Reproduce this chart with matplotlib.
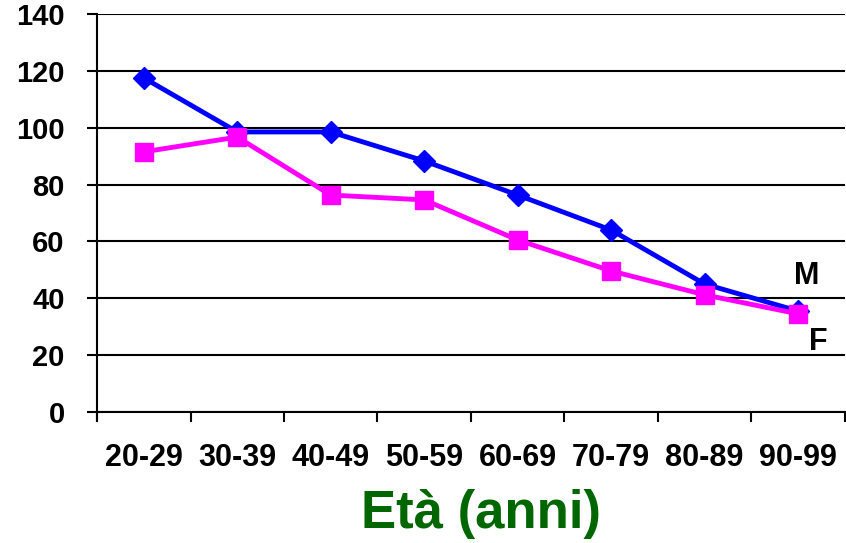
import numpy as np
import matplotlib
matplotlib.use('Agg')
import matplotlib.pyplot as plt

plt.rcParams['font.family'] = ['Liberation Sans', 'DejaVu Sans']

# Data
age_groups = ['20-29', '30-39', '40-49', '50-59', '60-69', '70-79', '80-89', '90-99']
males = [117.5, 98.5, 98.5, 88.3, 76.3, 64.0, 45.0, 35.5]
females = [91.5, 96.7, 76.3, 74.6, 60.5, 49.6, 41.2, 34.5]
y_ticks = [0, 20, 40, 60, 80, 100, 120, 140]

fig = plt.figure(figsize=(8.46, 5.43), dpi=100)
ax = fig.add_axes([0.1147, 0.2413, 0.884, 0.733])

x = np.arange(len(age_groups))

# horizontal grid lines
for t in y_ticks:
    ax.axhline(t, color='black', linewidth=1.5, zorder=1)

ax.plot(x, males, color='#0000FF', linewidth=3.5, marker='D', markersize=11,
        zorder=3, clip_on=False)
ax.plot(x, females, color='#FF00FF', linewidth=3.5, marker='s', markersize=13,
        zorder=4, clip_on=False)

ax.text(7.09, 47.8, 'M', fontsize=22, fontweight='bold', ha='center', va='center')
ax.text(7.22, 24.6, 'F', fontsize=22, fontweight='bold', ha='center', va='center')

ax.set_xlim(-0.5, 7.5)
ax.set_ylim(0, 140)
ax.set_yticks(y_ticks)
ax.set_yticklabels([str(t) for t in y_ticks], fontsize=21, fontweight='bold')
ax.tick_params(axis='y', length=7.2, width=1.5, pad=16)

ax.set_xticks(np.arange(-0.5, 8, 1))
ax.set_xticklabels([])
ax.tick_params(axis='x', which='major', length=7, width=1.5, direction='out')
ax.set_xticks(x, minor=True)
ax.set_xticklabels(age_groups, minor=True, fontsize=22, fontweight='bold')
ax.tick_params(axis='x', which='minor', length=0, pad=22)

for side in ['top', 'right']:
    ax.spines[side].set_visible(False)
ax.spines['left'].set_linewidth(1.5)
ax.spines['bottom'].set_linewidth(1.5)
ax.spines['left'].set_bounds(-3.3, 140)

fig.text(0.5686, 0.053, 'Età (anni)', fontsize=38, fontweight='bold',
         color='#006600', ha='center', va='center')

fig.savefig('out.png', dpi=100)
